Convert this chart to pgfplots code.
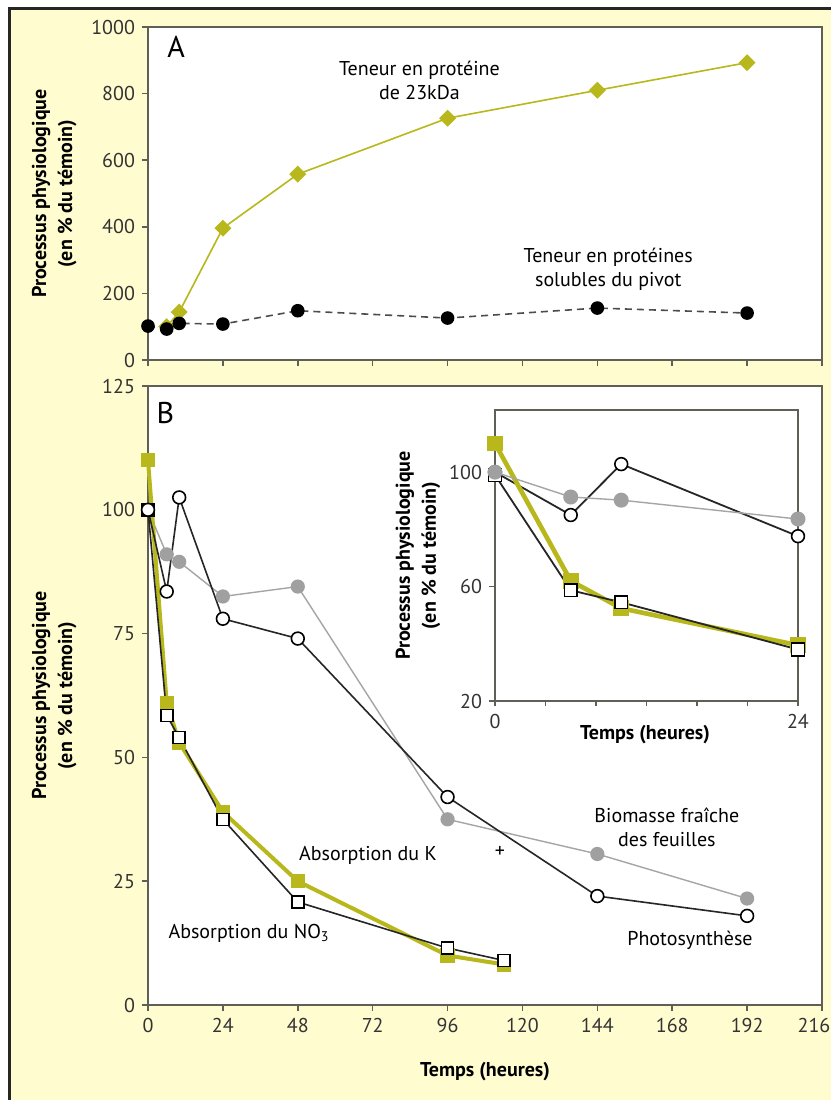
\documentclass[border=0pt]{standalone}
\usepackage{fontspec}
\setmainfont{PT Sans}
\usepackage{pgfplots}
\pgfplotsset{compat=1.18}
\definecolor{bg}{RGB}{255,252,208}
\definecolor{olive}{RGB}{184,184,28}
\definecolor{axgray}{RGB}{95,95,85}
\definecolor{mgray}{RGB}{160,160,160}
\definecolor{lgray}{RGB}{165,165,165}
\pgfplotsset{
  base/.style={
    scale only axis,
    axis background/.style={fill=white},
    axis line style={axgray, line width=0.9pt},
    every tick/.style={axgray, line width=0.8pt},
    tick align=outside,
    tick pos=left,
    major tick length=3pt,
    /pgf/number format/assume math mode=true,
    /pgf/number format/1000 sep={},
    tick label style={font=\fontsize{10}{12}\selectfont, text=black!80},
    label style={font=\fontsize{10}{13}\selectfont\bfseries},
    ylabel style={align=center},
  }
}
\begin{document}
\begin{tikzpicture}
\fill[bg] (5pt,-4.5pt) rectangle (415.5pt,-550pt);
\draw[black!85, line width=1.2pt] (4.8pt,-550pt) -- (4.8pt,-4.3pt) -- (415.5pt,-4.3pt);
% Panel A
\begin{axis}[base,
  at={(74pt,-180pt)}, anchor=south west,
  width=337pt, height=166.5pt,
  xmin=0, xmax=216, ymin=0, ymax=1000,
  xtick={0,24,...,216}, xticklabels={},
  ytick={0,200,...,1000},
  ylabel={Processus physiologique\\(en \% du témoin)},
  ylabel style={at={(axis description cs:-0.139,0.5)}, anchor=center},
  clip=false,
]
\addplot[olive, line width=0.8pt, mark=square*, mark size=2.6pt, mark options={fill=olive, draw=olive, rotate=45}]
  coordinates {(6,100) (10,144) (24,396) (48,558) (96,726) (144,810) (192,893)};
\addplot[black!70, line width=0.8pt, dash pattern=on 3.5pt off 2.5pt, mark=*, mark size=3pt, mark options={solid, fill=black, draw=black}]
  coordinates {(0,102) (6,93) (10,110) (24,108) (48,148) (96,126) (144,156) (192,141)};
\node[font=\fontsize{15}{15}\selectfont] at (axis cs:9,940) {A};
\node[font=\fontsize{10}{12}\selectfont, align=center] at (axis cs:87,840) {Teneur en protéine\\de 23kDa};
\node[font=\fontsize{10}{12}\selectfont, align=center] at (axis cs:147.5,273) {Teneur en protéines\\solubles du pivot};
\end{axis}
% Panel B
\begin{axis}[base,
  at={(74pt,-502.5pt)}, anchor=south west,
  width=337pt, height=309.5pt,
  xmin=0, xmax=216, ymin=0, ymax=125,
  xtick={0,24,...,216},
  xticklabels={0,24,48,72,96,120,144,168,192,\hspace{-8pt}216},
  ytick={0,25,...,125},
  ylabel={Processus physiologique\\(en \% du témoin)},
  ylabel style={at={(axis description cs:-0.139,0.5)}, anchor=center},
  xlabel={Temps (heures)},
  xlabel style={at={(axis description cs:0.5,-0.108)}, anchor=center},
  clip=false,
]
\addplot[lgray, line width=0.7pt, mark=*, mark size=3.2pt, mark options={fill=mgray, draw=mgray}]
  coordinates {(0,100) (6,91) (10,89.5) (24,82.5) (48,84.5) (96,37.5) (144,30.5) (192,21.5)};
\addplot[olive, line width=2pt, mark=square*, mark size=2.6pt, mark options={fill=olive, draw=olive}]
  coordinates {(0,110) (6,61) (10,53) (24,39) (48,25) (96,10) (114,8.2)};
\addplot[black!85, line width=0.8pt, mark=square*, mark size=3pt, mark options={fill=white, draw=black, line width=0.8pt}]
  coordinates {(0,100) (6,58.5) (10,54) (24,37.5) (48,20.8) (96,11.5) (114,9)};
\addplot[black!85, line width=0.8pt, mark=*, mark size=3.2pt, mark options={fill=white, draw=black, line width=0.8pt}]
  coordinates {(0,100) (6,83.5) (10,102.5) (24,78) (48,74) (96,42) (144,22) (192,18)};
\node[font=\fontsize{15}{15}\selectfont] at (axis cs:5.6,119.5) {B};
\node[font=\fontsize{10}{12}\selectfont] at (axis cs:70.5,30.3) {Absorption du K};
\node[font=\fontsize{10}{12}\selectfont] at (axis cs:112.8,30.9) {+};
\node[font=\fontsize{10}{12}\selectfont, align=center] at (axis cs:166.3,35.8) {Biomasse fraîche\\des feuilles};
\node[font=\fontsize{10}{12}\selectfont] at (axis cs:173.7,13.1) {Photosynthèse};
\node[font=\fontsize{10}{12}\selectfont] at (axis cs:32.4,14.5) {Absorption du NO\textsubscript{3}};
\end{axis}
% Inset
\begin{axis}[base,
  at={(247.5pt,-350.5pt)}, anchor=south west,
  width=151.5pt, height=145.5pt,
  xmin=0, xmax=24, ymin=20, ymax=121.7,
  xtick={0,4,...,24}, xticklabels={0,,,,,,24},
  ytick={20,60,100},
  ylabel={Processus physiologique\\(en \% du témoin)},
  ylabel style={at={(axis description cs:-0.254,0.5)}, anchor=center},
  xlabel={Temps (heures)},
  xlabel style={at={(axis description cs:0.495,-0.117)}, anchor=center},
  x tick style={/pgfplots/major tick length=2.5pt},
  clip=false,
]
\addplot[black!85, line width=0.9pt, mark=*, mark size=3.2pt, mark options={fill=white, draw=black, line width=0.8pt}]
  coordinates {(0,100) (6,85) (10,102.8) (24,77.6)};
\addplot[olive, line width=2.3pt, mark=square*, mark size=2.8pt, mark options={fill=olive, draw=olive}]
  coordinates {(0,110) (6,62) (10,52.4) (24,39.5)};
\addplot[black!85, line width=0.9pt, mark=square*, mark size=3.2pt, mark options={fill=white, draw=black, line width=0.8pt}]
  coordinates {(0,99) (6,58.7) (10,54.5) (24,38)};
\addplot[lgray, line width=0.7pt, mark=*, mark size=3.4pt, mark options={fill=mgray, draw=mgray}]
  coordinates {(0,100) (6,91.3) (10,90.2) (24,83.6)};
\end{axis}
\pgfresetboundingbox
\path (0pt,0pt) rectangle (415.5pt,-550pt);
\end{tikzpicture}
\end{document}
